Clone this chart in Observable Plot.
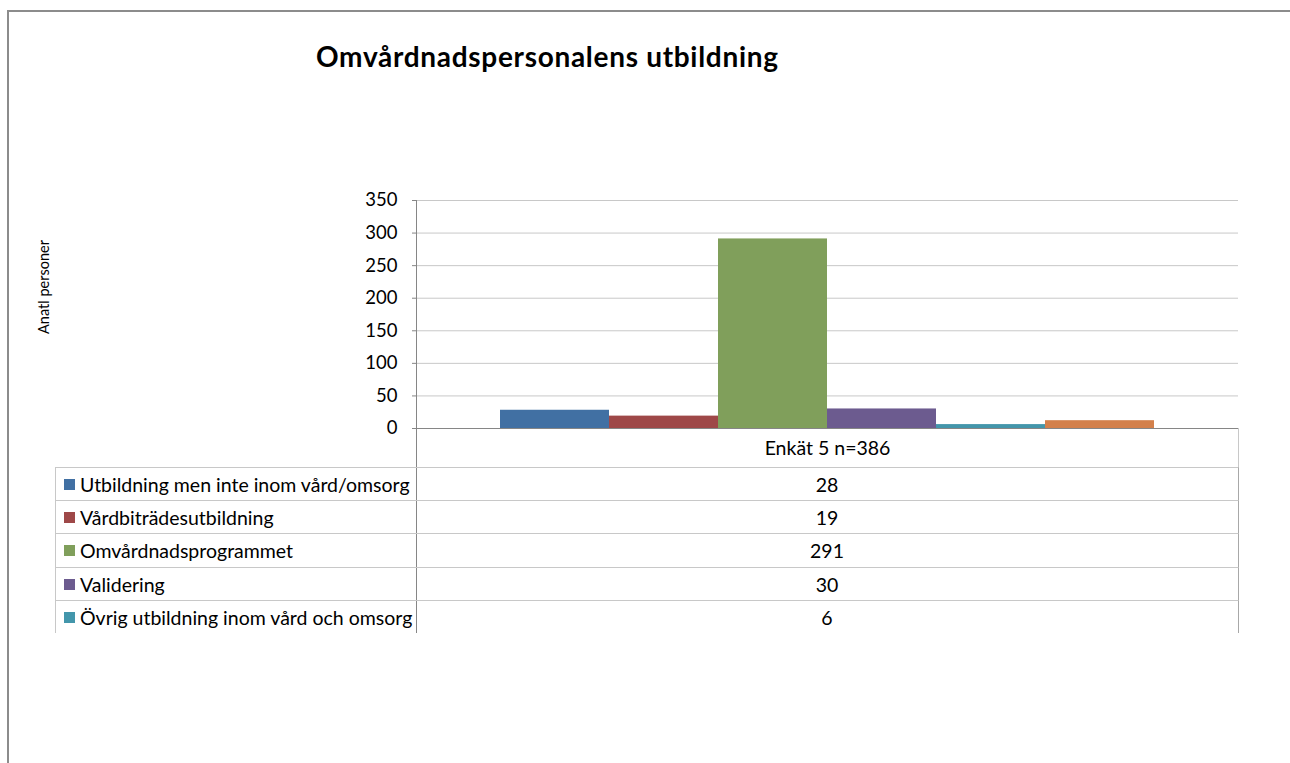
<!DOCTYPE html>
<html><head><meta charset="utf-8">
<script src="https://cdn.jsdelivr.net/npm/d3@7"></script>
<script src="https://cdn.jsdelivr.net/npm/@observablehq/plot@0.6"></script>
<style>
body{margin:0;background:#fff;font-family:Lato,"Open Sans",sans-serif;color:#000;}
#page{position:relative;width:1290px;height:763px;overflow:hidden;}
#frame{position:absolute;left:7px;top:10px;width:1300px;height:800px;border-top:2px solid #8c8c8c;border-left:2px solid #8c8c8c;}
#title{position:absolute;left:316px;top:39px;font-weight:bold;font-size:28px;letter-spacing:0.7px;white-space:nowrap;}
#ylabel{position:absolute;left:43px;top:287px;transform:translate(-50%,-50%) rotate(-90deg);font-size:14.5px;white-space:nowrap;}
#chart{position:absolute;left:0;top:0;}
#table{position:absolute;left:55px;top:428px;width:1184px;height:205px;overflow:hidden;font-size:19.5px;}
.cell{position:absolute;box-sizing:border-box;display:flex;align-items:center;white-space:nowrap;}
.key{display:inline-block;width:11px;height:11px;margin:0 5px 0 8px;}
</style></head>
<body>
<div id="page">
  <div id="frame"></div>
  <div id="title"></div>
  <div id="ylabel"></div>
  <div id="chart"></div>
  <div id="table"></div>
</div>
<script>
const chartTitle = "Omvårdnadspersonalens utbildning";
const yLabel = "Anatl personer";
const category = "Enkät 5 n=386";
const series = [
  "Utbildning men inte inom vård/omsorg",
  "Vårdbiträdesutbildning",
  "Omvårdnadsprogrammet",
  "Validering",
  "Övrig utbildning inom vård och omsorg",
  "Annan utbildning"
];
const values = [28, 19, 291, 30, 6, 12];
const colors = ["#4170A3", "#9E4848", "#809F5B", "#6C5B8F", "#4396AB", "#D3804B"];
const yTicks = [0, 50, 100, 150, 200, 250, 300, 350];
const tableRowsShown = 5; // the original's data table is cut off after five rows

document.getElementById("title").textContent = chartTitle;
document.getElementById("ylabel").textContent = yLabel;

const data = series.map((s, i) => ({series: s, value: values[i], category}));

const plot = Plot.plot({
  width: 1290,
  height: 763,
  marginLeft: 416,
  marginRight: 52,
  marginTop: 200,
  marginBottom: 335,
  style: {fontFamily: 'Lato, "Open Sans", sans-serif', fontSize: "18.5px", color: "#000", background: "transparent"},
  x: {domain: series, paddingInner: 0, paddingOuter: 0.75, axis: null},
  y: {domain: [0, 350], ticks: yTicks},
  color: {domain: series, range: colors},
  marks: [
    Plot.gridY(yTicks, {stroke: "#c8c8c8", strokeOpacity: 1}),
    Plot.axisY(yTicks, {tickSize: 4, tickPadding: 15, stroke: "#868686", label: null, fontSize: 18.5}),
    Plot.barY(data, {x: "series", y: "value", fill: "series"}),
    Plot.ruleY([0], {stroke: "#868686", strokeWidth: 1}),
    Plot.frame({anchor: "left", stroke: "#868686"})
  ]
});
document.getElementById("chart").appendChild(plot);

// data table under the chart
const table = document.getElementById("table");
const colW = 361, valW = 822, headH = 39, rowH = 33.2;
const head = document.createElement("div");
head.className = "cell";
Object.assign(head.style, {left: colW + "px", top: "0px", width: valW + 1 + "px", height: headH + "px",
  borderLeft: "1px solid #868686", borderRight: "1px solid #c8c8c8", justifyContent: "center"});
head.textContent = category;
table.appendChild(head);
series.slice(0, tableRowsShown).forEach((s, i) => {
  const top = headH + i * rowH;
  const lab = document.createElement("div");
  lab.className = "cell";
  Object.assign(lab.style, {left: "0px", top: top + "px", width: colW + 1 + "px", height: rowH + 1 + "px",
    borderTop: "1px solid #c8c8c8", borderLeft: "1px solid #c8c8c8", borderRight: "1px solid #868686"});
  const key = document.createElement("span");
  key.className = "key";
  key.style.background = colors[i];
  lab.appendChild(key);
  lab.appendChild(document.createTextNode(s));
  table.appendChild(lab);
  const val = document.createElement("div");
  val.className = "cell";
  Object.assign(val.style, {left: colW + "px", top: top + "px", width: valW + 1 + "px", height: rowH + 1 + "px",
    borderTop: "1px solid #c8c8c8", borderRight: "1px solid #a8a8a8", justifyContent: "center"});
  val.textContent = values[i];
  table.appendChild(val);
});
</script>
</body></html>
